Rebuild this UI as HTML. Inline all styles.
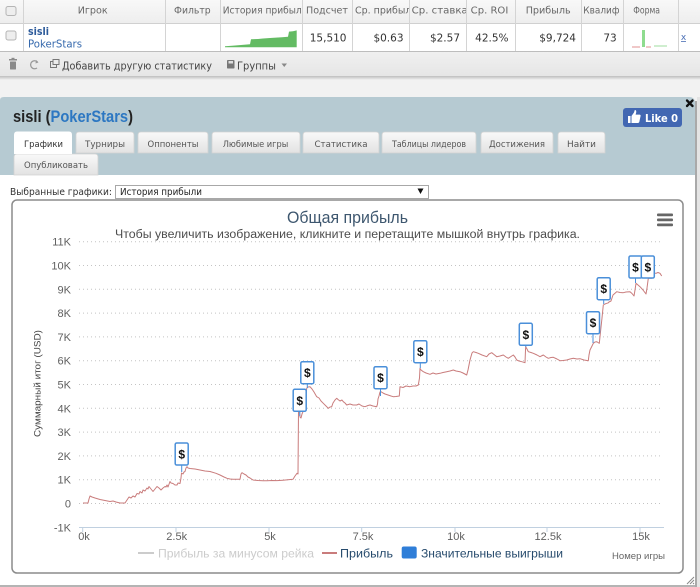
<!DOCTYPE html>
<html><head><meta charset="utf-8"><style>
html,body{margin:0;padding:0;background:#f2f2f2;width:700px;height:587px;overflow:hidden}
svg{display:block}
</style></head><body>
<svg width="700" height="587" viewBox="0 0 700 587" xmlns="http://www.w3.org/2000/svg" font-family="'DejaVu Sans', sans-serif">
<defs>
<linearGradient id="tab" x1="0" y1="0" x2="0" y2="1"><stop offset="0" stop-color="#f9f9f9"/><stop offset="1" stop-color="#e2e2e2"/></linearGradient>
<linearGradient id="hdr" x1="0" y1="0" x2="0" y2="1"><stop offset="0" stop-color="#f8f8f8"/><stop offset="1" stop-color="#eeeeee"/></linearGradient>
<linearGradient id="sh" x1="0" y1="0" x2="0" y2="1"><stop offset="0" stop-color="#bdbdbd"/><stop offset="1" stop-color="#f2f2f2"/></linearGradient>
<linearGradient id="tb" x1="0" y1="0" x2="0" y2="1"><stop offset="0" stop-color="#f0f0f0"/><stop offset="1" stop-color="#e6e6e6"/></linearGradient>
</defs>

<!-- ===== Top table ===== -->
<rect x="0" y="0" width="700" height="23" fill="url(#hdr)"/>
<rect x="0" y="23" width="700" height="28" fill="#ffffff"/>
<rect x="0" y="51" width="700" height="25" fill="url(#tb)"/>
<rect x="0" y="76" width="700" height="4" fill="url(#sh)"/>
<line x1="0" y1="23.5" x2="700" y2="23.5" stroke="#d0d0d0"/>
<line x1="0" y1="51.5" x2="700" y2="51.5" stroke="#bdbdbd"/>
<g stroke="#d4d4d4">
<line x1="23.5" y1="0" x2="23.5" y2="51"/>
<line x1="165.5" y1="0" x2="165.5" y2="51"/>
<line x1="220.5" y1="0" x2="220.5" y2="51"/>
<line x1="302.5" y1="0" x2="302.5" y2="51"/>
<line x1="352.5" y1="0" x2="352.5" y2="51"/>
<line x1="409.5" y1="0" x2="409.5" y2="51"/>
<line x1="466.5" y1="0" x2="466.5" y2="51"/>
<line x1="515.5" y1="0" x2="515.5" y2="51"/>
<line x1="581.5" y1="0" x2="581.5" y2="51"/>
<line x1="623.5" y1="0" x2="623.5" y2="51"/>
<line x1="678.5" y1="0" x2="678.5" y2="51"/>
</g>
<!-- checkboxes -->
<rect x="6" y="6.5" width="10" height="9" rx="2" fill="#eeeeee" stroke="#b5b5b5"/>
<rect x="6" y="31" width="10" height="9" rx="2" fill="#eeeeee" stroke="#b5b5b5"/>
<!-- header text -->
<g font-size="10" fill="#666">
<text x="77.7" y="13.5" textLength="30" lengthAdjust="spacingAndGlyphs">Игрок</text>
<text x="174" y="13.5" textLength="36.7" lengthAdjust="spacingAndGlyphs">Фильтр</text>
<svg x="221" y="0" width="81" height="23"><text x="1.7" y="13.5" textLength="85" lengthAdjust="spacingAndGlyphs">История прибыли</text></svg>
<text x="306" y="13.5" textLength="42" lengthAdjust="spacingAndGlyphs">Подсчет</text>
<svg x="353" y="0" width="56" height="23"><text x="2" y="13.5" textLength="62" lengthAdjust="spacingAndGlyphs">Ср. прибыль</text></svg>
<svg x="410" y="0" width="56" height="23"><text x="1.7" y="13.5" textLength="56" lengthAdjust="spacingAndGlyphs">Ср. ставка</text></svg>
<text x="470.7" y="13.5" textLength="37.6" lengthAdjust="spacingAndGlyphs">Ср. ROI</text>
<text x="525.7" y="13.5" textLength="45" lengthAdjust="spacingAndGlyphs">Прибыль</text>
<svg x="582" y="0" width="38" height="23"><text x="1.3" y="13.5" textLength="70" lengthAdjust="spacingAndGlyphs">Квалификация</text></svg>
<text x="633.3" y="13.5" textLength="26.7" lengthAdjust="spacingAndGlyphs">Форма</text>
</g>
<!-- row -->
<text x="28" y="35" font-size="10.5" font-weight="bold" fill="#2c5a9a" textLength="21" lengthAdjust="spacingAndGlyphs">sisli</text>
<text x="28" y="47.5" font-size="10.5" fill="#3669ad" textLength="54" lengthAdjust="spacingAndGlyphs">PokerStars</text>
<path d="M225,47.3 L225,46.2 L232,45.8 L238,45.2 L244,44.8 L250,44.2 L251,39.2 L258,39 L263,38.5 L270,38 L276,37.6 L282,37.2 L288,36.7 L289,31.6 L293,31.2 L296.7,30.4 L296.7,47.3 Z" fill="#63bb63"/>
<g font-size="10.5" fill="#333" text-anchor="end">
<text x="346.5" y="41.5">15,510</text>
<text x="403.5" y="41.5">$0.63</text>
<text x="460" y="41.5">$2.57</text>
<text x="508.5" y="41.5">42.5%</text>
<text x="576" y="41.5">$9,724</text>
<text x="616.7" y="41.5">73</text>
</g>
<rect x="642" y="30" width="3" height="17" fill="#8fdc8f"/>
<line x1="632" y1="47" x2="640" y2="47" stroke="#e09090" stroke-width="1"/>
<line x1="646" y1="47" x2="651" y2="47" stroke="#e09090" stroke-width="1"/>
<line x1="654" y1="46" x2="667" y2="46" stroke="#9fdc9f" stroke-width="1"/>
<text x="683.5" y="40" font-size="9" fill="#4a6fb5" text-anchor="middle">x</text>
<line x1="681" y1="41.5" x2="686" y2="41.5" stroke="#4a6fb5" stroke-width="0.8"/>

<!-- toolbar -->
<g fill="#8a8a8a">
<rect x="9" y="59" width="8" height="1.5"/>
<rect x="11.5" y="57.8" width="3" height="1.5"/>
<rect x="10" y="61.5" width="6" height="8" rx="0.5"/>
</g>
<path d="M37.5,62 A4,4 0 1 0 37,68" fill="none" stroke="#9a9a9a" stroke-width="1.3"/>
<path d="M36,60 L38.5,62.5 L35.5,63.5 Z" fill="#9a9a9a"/>
<rect x="50.5" y="61.5" width="6" height="6" fill="none" stroke="#777" stroke-width="1"/>
<rect x="53" y="59.5" width="6" height="5" fill="#ececec" stroke="#777" stroke-width="1"/>
<text x="62" y="69.5" font-size="10.5" fill="#444" textLength="150" lengthAdjust="spacingAndGlyphs">Добавить другую статистику</text>
<rect x="227" y="60" width="7.5" height="8.5" rx="0.8" fill="#777"/>
<rect x="228.5" y="61" width="4.5" height="2.5" fill="#ddd"/>
<text x="237" y="69.5" font-size="10.5" fill="#444" textLength="39" lengthAdjust="spacingAndGlyphs">Группы</text>
<path d="M281.5,63.5 L287,63.5 L284.25,67 Z" fill="#888"/>

<!-- ===== Panel ===== -->
<path d="M0,100 Q0,97 4,97 H689 Q695,97 695,103 V587 H0 Z" fill="#b6cad2"/>
<rect x="0" y="175" width="695" height="410" fill="#ffffff"/>
<rect x="0" y="585" width="697" height="2" fill="#b4b4b4"/>
<rect x="695" y="101" width="2" height="486" fill="#a9a9a9"/>
<rect x="697" y="97" width="3" height="490" fill="#e4e4e4"/>

<!-- panel title -->
<text x="13" y="122" font-family="'Liberation Sans', sans-serif" font-size="17" font-weight="bold" fill="#222" textLength="120" lengthAdjust="spacingAndGlyphs">sisli (<tspan fill="#2c77c2">PokerStars</tspan>)</text>

<!-- like button -->
<rect x="623" y="108" width="59" height="19" rx="3" fill="#4267b2"/>
<path d="M628,116 h2.5 v7 h-2.5 Z M631.5,116 L634,112.5 L634.8,110 Q636.5,110 636.2,112.5 L635.6,114.6 H639.8 Q641,115 640.5,116.4 L639.3,122 Q639,123 637.8,123 H631.5 Z" fill="#ffffff"/>
<text x="645" y="121.8" font-size="10.5" font-weight="bold" fill="#ffffff" textLength="33" lengthAdjust="spacingAndGlyphs">Like 0</text>
<!-- close -->
<g stroke="#111" stroke-width="2.3" stroke-linecap="round"><line x1="687" y1="100.5" x2="692.5" y2="106"/><line x1="692.5" y1="100.5" x2="687" y2="106"/></g>

<!-- tabs -->
<g stroke="#d2d2d2" stroke-width="0.8">
<path d="M76,153 V135 Q76,132 79,132 H131 Q134,132 134,135 V153 Z" fill="url(#tab)"/>
<path d="M138,153 V135 Q138,132 141,132 H205 Q208,132 208,135 V153 Z" fill="url(#tab)"/>
<path d="M212,153 V135 Q212,132 215,132 H297 Q300,132 300,135 V153 Z" fill="url(#tab)"/>
<path d="M303,153 V135 Q303,132 306,132 H376 Q379,132 379,135 V153 Z" fill="url(#tab)"/>
<path d="M382,153 V135 Q382,132 385,132 H473 Q476,132 476,135 V153 Z" fill="url(#tab)"/>
<path d="M481,153 V135 Q481,132 484,132 H550 Q553,132 553,135 V153 Z" fill="url(#tab)"/>
<path d="M558,153 V135 Q558,132 561,132 H602 Q605,132 605,135 V153 Z" fill="url(#tab)"/>
<path d="M14,175 V157 Q14,154 17,154 H95 Q98,154 98,157 V175 Z" fill="url(#tab)"/>
</g>
<path d="M14,154 V135 Q14,131.5 17,131.5 H69 Q72,131.5 72,135 V154 Z" fill="#ffffff"/>
<g font-size="9" fill="#555" text-anchor="middle">
<text x="43.5" y="147" fill="#333" textLength="39" lengthAdjust="spacingAndGlyphs">Графики</text>
<text x="105" y="147" textLength="40" lengthAdjust="spacingAndGlyphs">Турниры</text>
<text x="173" y="147" textLength="51" lengthAdjust="spacingAndGlyphs">Оппоненты</text>
<text x="255.5" y="147" textLength="65.6" lengthAdjust="spacingAndGlyphs">Любимые игры</text>
<text x="341" y="147" textLength="53" lengthAdjust="spacingAndGlyphs">Статистика</text>
<text x="429" y="147" textLength="74" lengthAdjust="spacingAndGlyphs">Таблицы лидеров</text>
<text x="517" y="147" textLength="56" lengthAdjust="spacingAndGlyphs">Достижения</text>
<text x="581.5" y="147" textLength="29" lengthAdjust="spacingAndGlyphs">Найти</text>
<text x="56" y="168" textLength="64" lengthAdjust="spacingAndGlyphs">Опубликовать</text>
</g>

<!-- chart selector -->
<text x="10" y="195" font-size="9.5" fill="#333" textLength="102" lengthAdjust="spacingAndGlyphs">Выбранные графики:</text>
<rect x="115.5" y="185.5" width="313" height="13" fill="#ffffff" stroke="#a8a8a8"/>
<text x="120" y="195" font-size="9.5" fill="#222" textLength="82" lengthAdjust="spacingAndGlyphs">История прибыли</text>
<path d="M417.5,188.5 L423.5,188.5 L420.5,194 Z" fill="#111"/>

<!-- ===== Chart ===== -->
<rect x="12" y="200" width="671" height="373" rx="5" fill="#ffffff" stroke="#8c8c8c" stroke-width="1.5"/>
<text x="347.5" y="223" font-family="'Liberation Sans', sans-serif" font-size="16.5" fill="#3e576f" text-anchor="middle" textLength="121" lengthAdjust="spacingAndGlyphs">Общая прибыль</text>
<text x="347.5" y="238" font-family="'Liberation Sans', sans-serif" font-size="11.5" fill="#4d4d4d" text-anchor="middle" textLength="465" lengthAdjust="spacingAndGlyphs">Чтобы увеличить изображение, кликните и перетащите мышкой внутрь графика.</text>
<g fill="#666"><rect x="657" y="213.5" width="16" height="2.8" rx="1"/><rect x="657" y="218.5" width="16" height="2.8" rx="1"/><rect x="657" y="223.5" width="16" height="2.8" rx="1"/></g>

<!-- grid -->
<g stroke="#c4c4c4" stroke-width="1" stroke-dasharray="1,3">
<line x1="79" y1="241.7" x2="663" y2="241.7"/>
<line x1="79" y1="265.5" x2="663" y2="265.5"/>
<line x1="79" y1="289.3" x2="663" y2="289.3"/>
<line x1="79" y1="313.1" x2="663" y2="313.1"/>
<line x1="79" y1="336.9" x2="663" y2="336.9"/>
<line x1="79" y1="360.7" x2="663" y2="360.7"/>
<line x1="79" y1="384.5" x2="663" y2="384.5"/>
<line x1="79" y1="408.3" x2="663" y2="408.3"/>
<line x1="79" y1="432.1" x2="663" y2="432.1"/>
<line x1="79" y1="455.9" x2="663" y2="455.9"/>
<line x1="79" y1="479.7" x2="663" y2="479.7"/>
<line x1="79" y1="503.5" x2="663" y2="503.5"/>
</g>
<line x1="79" y1="527.5" x2="664" y2="527.5" stroke="#c0d0e0" stroke-width="1"/>
<g stroke="#c0d0e0" stroke-width="1">
<line x1="82.7" y1="527" x2="82.7" y2="532"/>
<line x1="176" y1="527" x2="176" y2="532"/>
<line x1="269" y1="527" x2="269" y2="532"/>
<line x1="361.7" y1="527" x2="361.7" y2="532"/>
<line x1="455" y1="527" x2="455" y2="532"/>
<line x1="547" y1="527" x2="547" y2="532"/>
<line x1="640" y1="527" x2="640" y2="532"/>
</g>

<!-- y labels -->
<g font-family="'Liberation Sans', sans-serif" font-size="11" fill="#606060" text-anchor="end">
<text x="71" y="245.7">11K</text>
<text x="71" y="269.5">10K</text>
<text x="71" y="293.3">9K</text>
<text x="71" y="317.1">8K</text>
<text x="71" y="340.9">7K</text>
<text x="71" y="364.7">6K</text>
<text x="71" y="388.5">5K</text>
<text x="71" y="412.3">4K</text>
<text x="71" y="436.1">3K</text>
<text x="71" y="459.9">2K</text>
<text x="71" y="483.7">1K</text>
<text x="71" y="507.5">0</text>
<text x="71" y="531.3">-1K</text>
</g>
<!-- x labels -->
<g font-family="'Liberation Sans', sans-serif" font-size="11" fill="#606060" text-anchor="middle">
<text x="84" y="540">0k</text>
<text x="176.7" y="540">2.5k</text>
<text x="270" y="540">5k</text>
<text x="363" y="540">7.5k</text>
<text x="456" y="540">10k</text>
<text x="548" y="540">12.5k</text>
<text x="641" y="540">15k</text>
</g>
<text transform="translate(40.5,383.5) rotate(-90)" font-family="'Liberation Sans', sans-serif" font-size="9" fill="#444" text-anchor="middle" textLength="107" lengthAdjust="spacingAndGlyphs">Суммарный итог (USD)</text>

<!-- series line -->
<polyline fill="none" stroke="#c97c7c" stroke-width="1" stroke-linejoin="round" points="
83,503 88,503 89,499 90,496 92,497 95,498 100,499.5 105,500.5 110,501.5 113,501 116,502 120,503 125,503 127,500 129,497 131,498 133,496 135,497 137,493.5 139,494 140,491.5 142,493 143,490 145,491 147,488 148,489 149,486.5 151,489 153,491.5 155,489 157,486.5 159,488 161,490 163,488 165,486.5 166,487 167,485 168,487 170,481.5 171,483 173,483.5 175,485 177,485 178,483 180,483.5 181,478 181.5,473 183,474 184,472 185,471.5 186,468 187,466.7 188,468 190,468.5
195,469 200,470 205,471 210,471.5 216,473.3 220,475 224,477 227,478.3 230,479 233,479.3 236,479.3 240,479.3 241,474 242,472.7 244,474 246,475 248,477 250,478 253,480 258,480.5 263,480.7 267,480.7 272,480.5 277,480.6 283,480.2 288,479.8 293,479.3 295,476 297,473.3 298,474
298.5,410 299.5,408.3 300,417 301,418 302,414 303,411.7 305,405 306,395 306.7,388.3 308,387 310,386.7 312,389 314,392 316.7,396.7 319,398 321,401 323.3,403.3 326,406 328.3,408.3 330,407 331.7,406.7 333,403 335,400 336.7,398.3 338,399.5 340,401 342,400 343.3,401.7 345,403 346.7,405 350,404 353,405 356.7,405 359,404 362,406 365,406.7 368,405.5 370,405 373,406 376.7,406.7
377.5,404 378,399 379,396 380,392 381,391.7 383,393 385,394 388,395 391,396 393.3,396.7 396,396.5 399.3,396 400,386.7 403,387.5 406,386 410,386.7 413,386 416,386 418.3,385 419.5,378 420,368.3 421,370 423.3,371.7 426,373 430,374.3 433,373 436,374 440,373.3 443,372.5 446.7,371.7 450,371 453.3,370 456,371 460,371.7 463,373 466.7,375 468,370 470,360 472,353 473.3,351.7 476,352.5 478.3,353.3 482,355 486.7,356.7 489,354 491.7,352.7 494,354.5 496.7,356.7 500,356 503.3,355 506,357 508.3,358.3 511,356.5 513.3,355 515,357 516.7,360 519,361 521.7,361.7 525,362.7 525.5,350 525.7,346.7 527,349 528.3,351.7 531,352.5 533.3,353.3 537,355 540,356.7 543.3,355 546,357 548.3,358.3 551,357.5 553.3,357.3 557,359 560,360.7 563,360.5 566.7,360 570,359 573.3,358.3 577,359 580,358.7 584,360 588.3,360.7 589,355 590,350 592,346 593.3,343.3 595,342 596.7,341.7 598,342.5 599.3,343.3 600.7,330 602,318 603.3,305 605,304 606.7,303.3 608,303 609,302 611,301 613,295 616.7,291.7 620,292.5 623.3,292.7 626,292 630,291.7 632,293.5 634,296 635,290 636,283.3 638,285 640,286.7 643,290 646,294 647,288 648.3,278.3 651.7,278.3 653.3,273.3 656,273.3 658,272.5 660,273.3 661.7,276"/>

<!-- flags -->
<g stroke="#4a8fd9" stroke-width="1">
<line x1="181.7" y1="465" x2="181.7" y2="472"/>
<line x1="299.7" y1="411" x2="299.7" y2="416"/>
<line x1="307.3" y1="383.5" x2="307.3" y2="388"/>
<line x1="380.5" y1="388.5" x2="380.5" y2="396"/>
<line x1="420.3" y1="362.5" x2="420.3" y2="368"/>
<line x1="525.8" y1="345" x2="525.8" y2="347"/>
<line x1="593" y1="334" x2="593" y2="343"/>
<line x1="603.7" y1="300" x2="603.7" y2="304"/>
<line x1="635.5" y1="278.3" x2="635.5" y2="283"/>
<line x1="647.8" y1="278.3" x2="647.8" y2="278.5"/>
</g>
<g fill="#ffffff" stroke="#4a8fd9" stroke-width="1.5">
<rect x="175.2" y="443" width="13" height="22" rx="1.5"/>
<rect x="293.2" y="389.3" width="13" height="22" rx="1.5"/>
<rect x="300.8" y="361.7" width="13" height="22" rx="1.5"/>
<rect x="374" y="366.7" width="13" height="22" rx="1.5"/>
<rect x="413.8" y="340.7" width="13" height="22" rx="1.5"/>
<rect x="519.3" y="323.3" width="13" height="22" rx="1.5"/>
<rect x="586.5" y="311.7" width="13" height="22" rx="1.5"/>
<rect x="597.2" y="277.7" width="13" height="22" rx="1.5"/>
<rect x="629" y="256" width="13" height="22" rx="1.5"/>
<rect x="641.3" y="256" width="13" height="22" rx="1.5"/>
</g>
<g font-family="'Liberation Sans', sans-serif" font-size="12" font-weight="bold" fill="#111" text-anchor="middle">
<text x="181.7" y="458.5">$</text>
<text x="299.7" y="404.8">$</text>
<text x="307.3" y="377.2">$</text>
<text x="380.5" y="382.2">$</text>
<text x="420.3" y="356.2">$</text>
<text x="525.8" y="338.8">$</text>
<text x="593" y="327.2">$</text>
<text x="603.7" y="293.2">$</text>
<text x="635.5" y="271.5">$</text>
<text x="647.8" y="271.5">$</text>
</g>

<!-- legend -->
<line x1="138" y1="553" x2="154" y2="553" stroke="#cccccc" stroke-width="2"/>
<text x="158" y="557.3" font-family="'Liberation Sans', sans-serif" font-size="12" fill="#cccccc" textLength="156" lengthAdjust="spacingAndGlyphs">Прибыль за минусом рейка</text>
<line x1="322" y1="553" x2="337" y2="553" stroke="#c97c7c" stroke-width="2"/>
<text x="340" y="557.3" font-family="'Liberation Sans', sans-serif" font-size="12" fill="#274b6d" textLength="53" lengthAdjust="spacingAndGlyphs">Прибыль</text>
<rect x="401.7" y="546.5" width="15" height="12" rx="2" fill="#2f7ed8"/>
<text x="421" y="557.3" font-family="'Liberation Sans', sans-serif" font-size="12" fill="#274b6d" textLength="142" lengthAdjust="spacingAndGlyphs">Значительные выигрыши</text>
<text x="612" y="559" font-family="'Liberation Sans', sans-serif" font-size="9.5" fill="#666" textLength="53" lengthAdjust="spacingAndGlyphs">Номер игры</text>

<!-- resize grip -->
<g stroke="#888" stroke-width="1">
<line x1="687" y1="584" x2="694" y2="577"/>
<line x1="690" y1="584" x2="694" y2="580"/>
<line x1="693" y1="584" x2="694" y2="583"/>
</g>
</svg>
</body></html>
